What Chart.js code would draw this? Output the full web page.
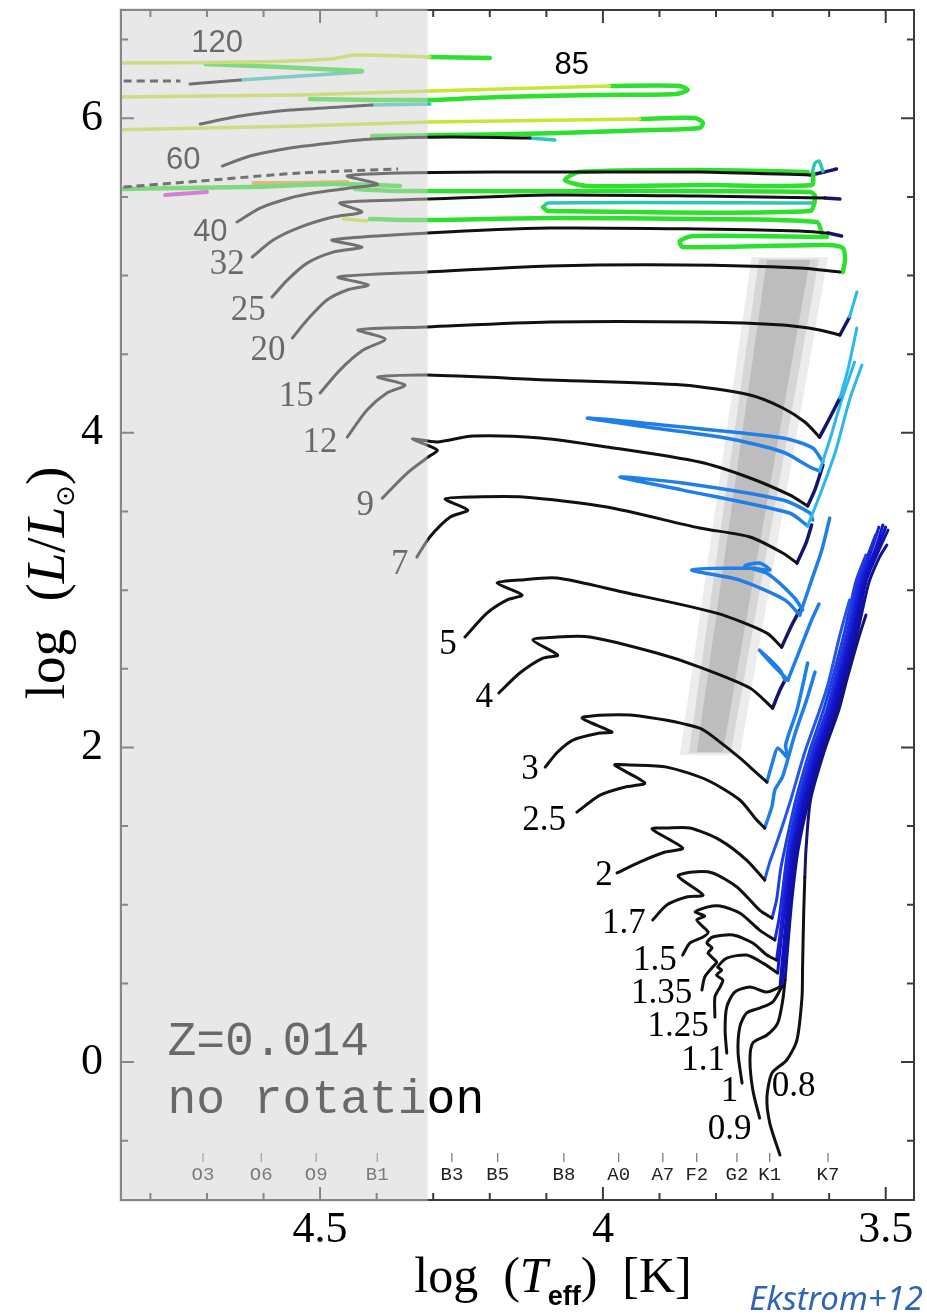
<!DOCTYPE html>
<html>
<head>
<meta charset="utf-8">
<script src="https://cdn.jsdelivr.net/npm/chart.js@4.4.1/dist/chart.umd.min.js"></script>
<style>
  html, body { margin: 0; padding: 0; background: #fff; }
  #wrap { width: 927px; height: 1315px; position: relative; }
</style>
</head>
<body>
<div id="wrap"><canvas id="hrd"></canvas></div>
<script>
// axis ranges: log Teff (reversed) and log L/Lsun
const xMin = 3.45, xMax = 4.852, yMin = -0.877, yMax = 6.688;
const xMajor = [3.5, 4, 4.5];
const xMinor = [3.5, 3.6, 3.7, 3.8, 3.9, 4, 4.1, 4.2, 4.3, 4.4, 4.5, 4.6, 4.7, 4.8];
const yMajor = [0, 2, 4, 6];
const yMinor = [-0.5, 0, 0.5, 1, 1.5, 2, 2.5, 3, 3.5, 4, 4.5, 5, 5.5, 6, 6.5];
const shadeEdge = 4.31;

// instability strip, three nested bands [logT, logL]
const stripOuter = [[3.864, 1.952], [3.758, 1.952], [3.602, 5.118], [3.737, 5.118]];
const stripMid = [[3.848, 1.964], [3.774, 1.964], [3.618, 5.105], [3.724, 5.105]];
const stripCore = [[3.834, 1.971], [3.788, 1.971], [3.634, 5.099], [3.710, 5.099]];

// evolutionary tracks, [logT, logL], split by phase
const m120Main = [[4.730, 6.217], [4.686, 6.230], [4.641, 6.243]];
const m120Teal = [[4.641, 6.243], [4.535, 6.268], [4.426, 6.294]];
const m120HeB = [[4.426, 6.300], [4.571, 6.326], [4.703, 6.345]];
const m120Top = [[4.306, 6.389], [4.200, 6.383]];
const m120Hot = [[4.870, 6.351], [4.624, 6.357], [4.482, 6.376], [4.438, 6.402], [4.306, 6.389]];
const m120Dash = [[4.870, 6.237], [4.747, 6.237]];

const m85Main = [[4.712, 5.963], [4.641, 6.014], [4.553, 6.052], [4.465, 6.071], [4.408, 6.084]];
const m85Teal = [[4.408, 6.084], [4.306, 6.090]];
const m85HeB = [[4.518, 6.122], [4.306, 6.116], [4.182, 6.135], [4.005, 6.148], [3.871, 6.154], [3.850, 6.179], [3.864, 6.205], [3.988, 6.205]];
const m85Hot = [[3.988, 6.205], [4.306, 6.173], [4.535, 6.148], [4.870, 6.135]];

const m60Main = [[4.673, 5.696], [4.624, 5.760], [4.553, 5.811], [4.465, 5.849], [4.408, 5.868], [4.270, 5.880], [4.129, 5.874]];
const m60Teal = [[4.129, 5.874], [4.085, 5.861]];
const m60HeB = [[4.408, 5.887], [4.270, 5.893], [4.076, 5.906], [3.917, 5.925], [3.829, 5.938], [3.823, 5.970], [3.837, 6.001], [3.935, 5.995]];
const m60Hot = [[3.935, 5.995], [4.306, 5.976], [4.535, 5.951], [4.870, 5.925]];

const m40Dash = [[4.870, 5.556], [4.712, 5.601], [4.535, 5.652], [4.362, 5.677]];
const m40Main = [[4.647, 5.340], [4.606, 5.429], [4.553, 5.493], [4.512, 5.524], [4.447, 5.556], [4.398, 5.582], [4.452, 5.633], [4.359, 5.652], [4.182, 5.658], [4.005, 5.658], [3.829, 5.658], [3.634, 5.639]];
const m40Navy = [[3.634, 5.639], [3.608, 5.658], [3.587, 5.677]];
const m40Teal = [[3.631, 5.639], [3.625, 5.715], [3.618, 5.728], [3.611, 5.664]];
const m40HeB = [[3.628, 5.645], [3.631, 5.575], [3.829, 5.575], [4.027, 5.569], [4.067, 5.607], [4.042, 5.658], [3.829, 5.671], [3.638, 5.658]];
const m40Hot = [[4.359, 5.569], [4.477, 5.582], [4.624, 5.563], [4.870, 5.550]];
const m40Orange = [[4.618, 5.588], [4.535, 5.588], [4.452, 5.594]];
const m40Magenta = [[4.774, 5.512], [4.700, 5.531]];

const m32Main = [[4.620, 5.118], [4.583, 5.226], [4.535, 5.308], [4.477, 5.372], [4.426, 5.404], [4.465, 5.461], [4.364, 5.480], [4.311, 5.486], [4.094, 5.512], [3.829, 5.505], [3.608, 5.493]];
const m32Navy = [[3.608, 5.493], [3.581, 5.486]];
const m32Teal = [[3.625, 5.461], [4.097, 5.461], [4.106, 5.435]];
const m32HeB = [[4.106, 5.435], [4.097, 5.410], [3.634, 5.410], [3.625, 5.505], [3.634, 5.531], [4.005, 5.537], [4.359, 5.537], [4.438, 5.550]];

const m25Main = [[4.585, 4.863], [4.558, 4.971], [4.523, 5.079], [4.477, 5.149], [4.426, 5.181], [4.479, 5.226], [4.311, 5.270], [4.094, 5.302], [3.829, 5.296], [3.652, 5.283], [3.602, 5.270]];
const m25Navy = [[3.602, 5.270], [3.578, 5.251]];
const m25HeB = [[3.613, 5.270], [3.622, 5.340], [3.829, 5.359], [4.094, 5.366], [4.306, 5.353], [4.412, 5.359]];
const m25Hot = [[4.417, 5.347], [4.459, 5.359]];

const m20Main = [[4.549, 4.603], [4.523, 4.717], [4.488, 4.844], [4.452, 4.908], [4.415, 4.940], [4.468, 4.990], [4.311, 5.022], [4.094, 5.060], [3.859, 5.067], [3.652, 5.048], [3.581, 5.022]];
const m20HeB = [[3.576, 5.022], [3.572, 5.099], [3.576, 5.175], [3.604, 5.194], [3.859, 5.181], [3.864, 5.219], [3.841, 5.251], [3.604, 5.245]];

const m15Main = [[4.500, 4.253], [4.465, 4.399], [4.424, 4.526], [4.385, 4.596], [4.433, 4.654], [4.311, 4.673], [4.094, 4.704], [3.829, 4.704], [3.682, 4.685], [3.617, 4.654], [3.581, 4.622]];
const m15Navy = [[3.581, 4.622], [3.564, 4.736]];
const m15Agb = [[3.564, 4.736], [3.551, 4.895]];

const m12Main = [[4.452, 3.973], [4.417, 4.145], [4.382, 4.253], [4.350, 4.304], [4.398, 4.355], [4.311, 4.367], [4.094, 4.336], [3.859, 4.304], [3.740, 4.240], [3.682, 4.158], [3.643, 4.069], [3.617, 3.973]];
const m12Navy = [[3.617, 3.973], [3.599, 4.094], [3.581, 4.221]];
const m12Agb = [[3.581, 4.221], [3.567, 4.399], [3.551, 4.666]];

const m9Main = [[4.390, 3.585], [4.346, 3.744], [4.309, 3.846], [4.293, 3.891], [4.337, 3.960], [4.293, 3.942], [4.230, 3.980], [4.111, 3.967], [3.993, 3.910], [3.829, 3.814], [3.740, 3.713], [3.670, 3.605], [3.638, 3.535]];
const m9Navy = [[3.638, 3.535], [3.624, 3.649], [3.611, 3.795]];
const m9Loop = [[3.611, 3.814], [3.629, 3.904], [3.682, 3.967], [3.859, 4.037], [4.027, 4.094], [3.935, 4.043], [3.793, 3.973], [3.682, 3.878], [3.634, 3.783], [3.617, 3.757]];
const m9Agb = [[3.617, 3.757], [3.599, 3.954], [3.578, 4.209], [3.555, 4.450]];

const m7Main = [[4.329, 3.210], [4.306, 3.338], [4.270, 3.465], [4.239, 3.509], [4.279, 3.579], [4.230, 3.592], [4.141, 3.592], [3.993, 3.528], [3.829, 3.395], [3.740, 3.338], [3.682, 3.236], [3.657, 3.172]];
const m7Navy = [[3.657, 3.172], [3.641, 3.299], [3.631, 3.414]];
const m7Loop = [[3.629, 3.446], [3.634, 3.490], [3.682, 3.573], [3.859, 3.681], [3.970, 3.719], [3.859, 3.636], [3.670, 3.490], [3.638, 3.408]];
const m7Agb = [[3.638, 3.408], [3.613, 3.636], [3.588, 3.891], [3.564, 4.209], [3.542, 4.431]];

const m5Main = [[4.244, 2.702], [4.205, 2.854], [4.170, 2.937], [4.143, 2.969], [4.187, 3.045], [4.147, 3.064], [4.081, 3.077], [3.965, 2.988], [3.799, 2.854], [3.710, 2.727], [3.684, 2.638]];
const m5Navy = [[3.684, 2.638], [3.666, 2.778], [3.652, 2.873]];
const m5Loop = [[3.647, 2.873], [3.661, 2.950], [3.708, 3.102], [3.749, 3.153], [3.723, 3.172], [3.705, 3.128], [3.740, 3.140], [3.843, 3.128], [3.758, 3.064], [3.678, 2.937], [3.652, 2.842]];
const m5Agb = [[3.652, 2.842], [3.631, 3.064], [3.613, 3.255], [3.599, 3.458]];

const m4Main = [[4.184, 2.346], [4.147, 2.473], [4.106, 2.568], [4.080, 2.587], [4.124, 2.683], [4.081, 2.702], [4.023, 2.702], [3.905, 2.600], [3.829, 2.511], [3.740, 2.378], [3.700, 2.250]];
const m4Navy = [[3.700, 2.250], [3.687, 2.365], [3.678, 2.428]];
const m4Loop = [[3.678, 2.428], [3.687, 2.492], [3.723, 2.619], [3.701, 2.530], [3.673, 2.428]];
const m4Agb = [[3.673, 2.428], [3.652, 2.619], [3.631, 2.810], [3.618, 2.912]];

const m3Main = [[4.102, 1.875], [4.080, 1.971], [4.053, 2.047], [4.005, 2.092], [3.984, 2.098], [4.037, 2.187], [3.993, 2.206], [3.935, 2.200], [3.829, 2.123], [3.793, 2.034], [3.758, 1.933], [3.728, 1.837], [3.710, 1.780]];
const m3Loop = [[3.710, 1.780], [3.700, 1.907], [3.691, 1.996], [3.673, 1.933], [3.677, 2.015], [3.657, 2.237], [3.638, 2.537]];

const m2p5Main = [[4.046, 1.589], [4.005, 1.697], [3.961, 1.748], [3.926, 1.774], [3.979, 1.888], [3.952, 1.888], [3.887, 1.875], [3.816, 1.793], [3.758, 1.666], [3.728, 1.538], [3.714, 1.488]];
const m2p5Loop = [[3.714, 1.488], [3.701, 1.627], [3.696, 1.729], [3.682, 1.818], [3.661, 2.079], [3.640, 2.301], [3.625, 2.479]];

const m2Main = [[3.975, 1.202], [3.935, 1.271], [3.890, 1.335], [3.859, 1.360], [3.913, 1.481], [3.887, 1.488], [3.846, 1.488], [3.793, 1.411], [3.746, 1.284], [3.714, 1.157]];
const m2Rgb = [[3.714, 1.157], [3.705, 1.271], [3.691, 1.411], [3.668, 1.666], [3.643, 1.971], [3.618, 2.225], [3.602, 2.403], [3.581, 2.715], [3.564, 2.937]];

const m1p7Main = [[3.912, 0.903], [3.887, 0.998], [3.852, 1.049], [3.823, 1.062], [3.867, 1.182], [3.841, 1.208], [3.806, 1.202], [3.763, 1.113], [3.723, 0.966], [3.701, 0.915]];
const m1p7Rgb = [[3.701, 0.915], [3.693, 1.030], [3.686, 1.221], [3.677, 1.379], [3.659, 1.666], [3.634, 1.983], [3.610, 2.238], [3.595, 2.428], [3.572, 2.746], [3.553, 3.051], [3.535, 3.223]];

const m1p5Main = [[3.859, 0.680], [3.846, 0.757], [3.823, 0.795], [3.814, 0.826], [3.834, 0.903], [3.820, 0.928], [3.837, 0.954], [3.816, 0.985], [3.793, 0.992], [3.758, 0.947], [3.723, 0.839], [3.696, 0.776]];
const m1p5Rgb = [[3.696, 0.776], [3.689, 0.903], [3.682, 1.093], [3.673, 1.348], [3.654, 1.666], [3.629, 1.983], [3.604, 2.238], [3.590, 2.428], [3.567, 2.746], [3.548, 3.064], [3.528, 3.255], [3.518, 3.350]];

const m1p35Main = [[3.825, 0.458], [3.820, 0.540], [3.806, 0.604], [3.799, 0.636], [3.814, 0.693], [3.807, 0.725], [3.816, 0.757], [3.806, 0.795], [3.770, 0.807], [3.735, 0.757], [3.710, 0.680], [3.693, 0.648]];
const m1p35Rgb = [[3.693, 0.648], [3.687, 0.807], [3.680, 1.030], [3.670, 1.348], [3.650, 1.666], [3.625, 1.983], [3.601, 2.238], [3.587, 2.428], [3.564, 2.746], [3.544, 3.064], [3.525, 3.255], [3.512, 3.401]];

const m1p25Main = [[3.802, 0.286], [3.802, 0.413], [3.793, 0.477], [3.788, 0.521], [3.799, 0.553], [3.790, 0.585], [3.797, 0.604], [3.781, 0.661], [3.746, 0.680], [3.717, 0.629], [3.691, 0.566]];
const m1p25Rgb = [[3.691, 0.566], [3.686, 0.744], [3.677, 1.030], [3.667, 1.348], [3.647, 1.666], [3.622, 1.983], [3.597, 2.238], [3.583, 2.428], [3.560, 2.746], [3.541, 3.064], [3.519, 3.255], [3.505, 3.414]];

const m1p1Main = [[3.781, 0.057], [3.784, 0.203], [3.781, 0.350], [3.767, 0.445], [3.740, 0.477], [3.710, 0.445], [3.687, 0.477]];
const m1p1Rgb = [[3.687, 0.477], [3.682, 0.680], [3.673, 1.030], [3.663, 1.348], [3.643, 1.666], [3.618, 1.983], [3.594, 2.238], [3.580, 2.428], [3.557, 2.746], [3.537, 3.064], [3.516, 3.255], [3.500, 3.401]];

const m1Main = [[3.754, -0.134], [3.761, 0.057], [3.758, 0.223], [3.746, 0.312], [3.723, 0.343], [3.700, 0.381], [3.684, 0.477]];
const m1Rgb = [[3.684, 0.477], [3.678, 0.712], [3.670, 1.030], [3.659, 1.348], [3.640, 1.666], [3.615, 1.983], [3.590, 2.238], [3.576, 2.428], [3.553, 2.746], [3.534, 3.064], [3.512, 3.255], [3.496, 3.382]];

const m0p9Main = [[3.723, -0.356], [3.735, -0.178], [3.740, 0.013], [3.735, 0.121], [3.710, 0.172], [3.691, 0.248], [3.682, 0.394], [3.678, 0.521]];
const m0p9Rgb = [[3.678, 0.521], [3.673, 0.744], [3.666, 1.030], [3.655, 1.348], [3.636, 1.666], [3.611, 1.983], [3.587, 2.238], [3.572, 2.428], [3.549, 2.746], [3.530, 3.045], [3.511, 3.210], [3.498, 3.287]];

const m0p8Main = [[3.687, -0.591], [3.705, -0.388], [3.710, -0.223], [3.701, -0.070], [3.675, 0.013], [3.657, 0.140], [3.648, 0.413], [3.647, 0.604], [3.645, 0.947], [3.643, 1.176]];
const m0p8Rgb = [[3.643, 1.176], [3.641, 1.348], [3.633, 1.666], [3.608, 1.983], [3.583, 2.238], [3.569, 2.428], [3.549, 2.683], [3.535, 2.842]];

// track labels (initial mass, Msun) and where they sit
const massNames = ['120', '85', '60', '40', '32', '25', '20', '15', '12', '9', '7', '5', '4', '3', '2.5', '2', '1.7', '1.5', '1.35', '1.25', '1.1', '1', '0.9', '0.8'];
const massLabelT = [4.682, 4.055, 4.742, 4.694, 4.664, 4.627, 4.592, 4.542, 4.500, 4.420, 4.359, 4.274, 4.210, 4.129, 4.104, 3.998, 3.963, 3.908, 3.896, 3.867, 3.823, 3.776, 3.776, 3.663];
const massLabelL = [6.478, 6.338, 5.734, 5.277, 5.067, 4.774, 4.520, 4.228, 3.935, 3.535, 3.160, 2.651, 2.314, 1.856, 1.532, 1.182, 0.877, 0.642, 0.432, 0.223, 0.006, -0.191, -0.432, -0.159];
const sansMasses = ['120', '85', '60', '40'];

// spectral types along the bottom
const specTypes = ['O3', 'O6', 'O9', 'B1', 'B3', 'B5', 'B8', 'A0', 'A7', 'F2', 'G2', 'K1', 'K7'];
const specLogT = [4.707, 4.604, 4.507, 4.399, 4.267, 4.186, 4.069, 3.972, 3.894, 3.834, 3.763, 3.705, 3.602];

const noteLines = ['Z=0.014', 'no rotation'];
const noteT = 4.770;
const noteL = [0.045, -0.324];

const styles = {
  main: { color: '#111111', width: 3 },
  hot: { color: '#c8e632', width: 3.5 },
  heb: { color: '#2ee02e', width: 4.5 },
  teal: { color: '#2cc7b0', width: 3.5 },
  navy: { color: '#15156e', width: 3.5 },
  loop: { color: '#1f7fe6', width: 3.5 },
  agb: { color: '#2bb8ec', width: 3 },
  orange: { color: '#e9a030', width: 4 },
  magenta: { color: '#cc33cc', width: 4 },
  dashed: { color: '#111111', width: 3, dash: [8, 5] },
  rgb2: { color: '#2257e8', width: 3 },
  rgb17: { color: '#1c3fe0', width: 3 },
  rgb15: { color: '#1a2ee0', width: 3 },
  rgb135: { color: '#1620d8', width: 3 },
  rgb125: { color: '#1414cc', width: 3 },
  rgb11: { color: '#1212bb', width: 3 },
  rgb1: { color: '#1010aa', width: 3 },
  rgb09: { color: '#10109a', width: 3 },
  rgb08: { color: '#141470', width: 3 }
};

const segments = [
  [m120Hot, 'hot'], [m120Top, 'heb'], [m120HeB, 'heb'], [m120Teal, 'teal'], [m120Main, 'main'], [m120Dash, 'dashed'],
  [m85Hot, 'hot'], [m85HeB, 'heb'], [m85Teal, 'teal'], [m85Main, 'main'],
  [m60Hot, 'hot'], [m60HeB, 'heb'], [m60Teal, 'teal'], [m60Main, 'main'],
  [m40Dash, 'dashed'], [m40Hot, 'heb'], [m40Orange, 'orange'], [m40Magenta, 'magenta'],
  [m40HeB, 'heb'], [m40Teal, 'teal'], [m40Navy, 'navy'], [m40Main, 'main'],
  [m32HeB, 'heb'], [m32Teal, 'teal'], [m32Navy, 'navy'], [m32Main, 'main'],
  [m25HeB, 'heb'], [m25Hot, 'hot'], [m25Navy, 'navy'], [m25Main, 'main'],
  [m20HeB, 'heb'], [m20Main, 'main'],
  [m15Agb, 'agb'], [m15Navy, 'navy'], [m15Main, 'main'],
  [m12Agb, 'agb'], [m12Navy, 'navy'], [m12Main, 'main'],
  [m9Agb, 'agb'], [m9Loop, 'loop'], [m9Navy, 'navy'], [m9Main, 'main'],
  [m7Agb, 'agb'], [m7Loop, 'loop'], [m7Navy, 'navy'], [m7Main, 'main'],
  [m5Agb, 'loop'], [m5Loop, 'loop'], [m5Navy, 'navy'], [m5Main, 'main'],
  [m4Agb, 'loop'], [m4Loop, 'loop'], [m4Navy, 'navy'], [m4Main, 'main'],
  [m3Loop, 'loop'], [m3Main, 'main'],
  [m2p5Loop, 'loop'], [m2p5Main, 'main'],
  [m2Rgb, 'rgb2'], [m2Main, 'main'],
  [m1p7Rgb, 'rgb17'], [m1p7Main, 'main'],
  [m1p5Rgb, 'rgb15'], [m1p5Main, 'main'],
  [m1p35Rgb, 'rgb135'], [m1p35Main, 'main'],
  [m1p25Rgb, 'rgb125'], [m1p25Main, 'main'],
  [m1p1Rgb, 'rgb11'], [m1p1Main, 'main'],
  [m1Rgb, 'rgb1'], [m1Main, 'main'],
  [m0p9Rgb, 'rgb09'], [m0p9Main, 'main'],
  [m0p8Rgb, 'rgb08'], [m0p8Main, 'main']
];

const toPoints = (arr) => arr.map(([t, l]) => ({ x: t, y: l }));

const datasets = [];
[[stripOuter, '#ececec'], [stripMid, '#d6d6d6'], [stripCore, '#bdbdbd']].forEach(([poly, col], i) => {
  datasets.push({
    data: toPoints(poly),
    showLine: true,
    fill: 'shape',
    backgroundColor: col,
    borderColor: 'transparent',
    borderWidth: 0,
    pointRadius: 0,
    tension: 0,
    order: 20 - i
  });
});
segments.forEach(([arr, key]) => {
  const s = styles[key];
  datasets.push({
    data: toPoints(arr),
    showLine: true,
    fill: false,
    borderColor: s.color,
    borderWidth: s.width,
    borderDash: s.dash || [],
    borderCapStyle: s.dash ? 'butt' : 'round',
    borderJoinStyle: 'round',
    pointRadius: 0,
    tension: 0.25,
    order: key === 'main' ? 1 : 2
  });
});

function drawRuns(ctx, runs, cx, cy, angle) {
  ctx.save();
  ctx.translate(cx, cy);
  ctx.rotate(angle);
  ctx.textAlign = 'left';
  ctx.textBaseline = 'alphabetic';
  let total = 0;
  runs.forEach(r => { ctx.font = r.font; r.w = ctx.measureText(r.text).width; total += r.w; });
  let px = -total / 2;
  runs.forEach(r => {
    ctx.font = r.font;
    ctx.fillStyle = '#000';
    ctx.fillText(r.text, px, r.dy || 0);
    px += r.w;
  });
  ctx.restore();
}

const decorPlugin = {
  id: 'hrdDecor',
  afterDatasetsDraw(chart) {
    const { ctx, chartArea: a, scales } = chart;
    const xs = scales.x, ys = scales.y;
    ctx.save();

    // mass labels
    ctx.fillStyle = '#000';
    ctx.textAlign = 'center';
    ctx.textBaseline = 'middle';
    massNames.forEach((name, i) => {
      ctx.font = sansMasses.includes(name) ? '31px "Liberation Sans"' : '35px "Liberation Serif"';
      ctx.fillText(name, xs.getPixelForValue(massLabelT[i]), ys.getPixelForValue(massLabelL[i]));
    });

    // spectral type scale
    ctx.font = '19px "Liberation Mono"';
    ctx.strokeStyle = '#555';
    ctx.lineWidth = 1;
    specTypes.forEach((s, i) => {
      const px = xs.getPixelForValue(specLogT[i]);
      ctx.beginPath();
      ctx.moveTo(px, a.bottom - 47);
      ctx.lineTo(px, a.bottom - 38);
      ctx.stroke();
      ctx.fillStyle = '#222';
      ctx.fillText(s, px, a.bottom - 25);
    });

    // model set note
    ctx.textAlign = 'left';
    ctx.textBaseline = 'alphabetic';
    ctx.font = '48px "Liberation Mono"';
    ctx.fillStyle = '#000';
    noteLines.forEach((t, i) => ctx.fillText(t, xs.getPixelForValue(noteT), ys.getPixelForValue(noteL[i])));

    // frame with inward ticks
    ctx.strokeStyle = '#3c3c3c';
    ctx.lineWidth = 2;
    ctx.strokeRect(a.left, a.top, a.right - a.left, a.bottom - a.top);
    ctx.beginPath();
    xMinor.forEach(v => {
      const len = xMajor.includes(v) ? 13 : 7;
      const px = xs.getPixelForValue(v);
      ctx.moveTo(px, a.bottom); ctx.lineTo(px, a.bottom - len);
      ctx.moveTo(px, a.top); ctx.lineTo(px, a.top + len);
    });
    yMinor.forEach(v => {
      const len = yMajor.includes(v) ? 13 : 7;
      const py = ys.getPixelForValue(v);
      ctx.moveTo(a.left, py); ctx.lineTo(a.left + len, py);
      ctx.moveTo(a.right, py); ctx.lineTo(a.right - len, py);
    });
    ctx.stroke();

    // hot side shading
    const xe = xs.getPixelForValue(shadeEdge);
    ctx.fillStyle = 'rgba(210,210,210,0.5)';
    ctx.fillRect(a.left - 2, a.top - 2, xe - a.left + 2, a.bottom - a.top + 4);
    ctx.restore();
  },
  afterDraw(chart) {
    const { ctx } = chart;
    const serif = '"Liberation Serif"';
    drawRuns(ctx, [
      { text: 'log\u2002(', font: '50px ' + serif },
      { text: 'T', font: 'italic 50px ' + serif },
      { text: 'eff', font: 'bold 27px "Liberation Sans"', dy: 13 },
      { text: ')\u2002[K]', font: '50px ' + serif }
    ], 553, 1292, 0);
    drawRuns(ctx, [
      { text: 'log\u2002(', font: '55px ' + serif },
      { text: 'L', font: 'italic 55px ' + serif },
      { text: '/', font: '55px ' + serif },
      { text: 'L', font: 'italic 55px ' + serif },
      { text: '\u2299', font: '26px "DejaVu Sans"', dy: 10 },
      { text: ')', font: '55px ' + serif }
    ], 64, 583, -Math.PI / 2);
    ctx.save();
    ctx.font = 'italic 33px "Noto Sans"';
    ctx.fillStyle = '#2f65b5';
    ctx.textAlign = 'right';
    ctx.textBaseline = 'alphabetic';
    ctx.fillText('Ekstrom+12', 923, 1310);
    ctx.restore();
  }
};

new Chart(document.getElementById('hrd'), {
  type: 'scatter',
  data: { datasets },
  options: {
    responsive: true,
    maintainAspectRatio: false,
    animation: false,
    events: [],
    layout: { padding: { top: 10, right: 13, left: 0, bottom: 0 } },
    scales: {
      x: {
        type: 'linear',
        reverse: true,
        min: xMin,
        max: xMax,
        grid: { display: false },
        border: { display: false },
        afterBuildTicks: (s) => { s.ticks = xMajor.map(v => ({ value: v })); },
        afterFit: (s) => { s.height = 115; s.paddingLeft = 0; s.paddingRight = 0; },
        ticks: {
          autoSkip: false,
          maxRotation: 0,
          padding: -4,
          color: '#000',
          font: { family: 'Liberation Serif', size: 44 },
          callback: (v) => String(v)
        }
      },
      y: {
        type: 'linear',
        min: yMin,
        max: yMax,
        grid: { display: false },
        border: { display: false },
        afterBuildTicks: (s) => { s.ticks = yMajor.map(v => ({ value: v })); },
        afterFit: (s) => { s.width = 121; s.paddingTop = 0; s.paddingBottom = 0; },
        ticks: {
          autoSkip: false,
          padding: 10,
          color: '#000',
          font: { family: 'Liberation Serif', size: 44 },
          callback: (v) => String(v)
        }
      }
    },
    plugins: {
      legend: { display: false },
      tooltip: { enabled: false }
    }
  },
  plugins: [decorPlugin]
});
</script>
</body>
</html>
